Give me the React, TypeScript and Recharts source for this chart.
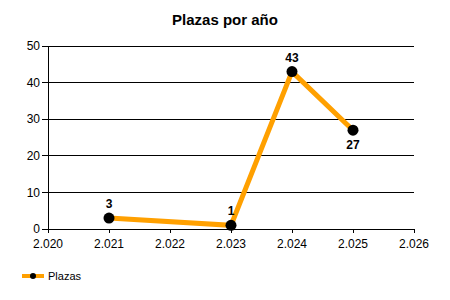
import React from "react";
import { LineChart, Line, XAxis, YAxis, CartesianGrid, Legend, LabelList } from "recharts";

const years = [2021, 2023, 2024, 2025];
const plazas = [3, 1, 43, 27];
const xTicks = [2020, 2021, 2022, 2023, 2024, 2025, 2026];
const yTicks = [0, 10, 20, 30, 40, 50];

const data = years.map((year, i) => ({ year, Plazas: plazas[i] }));

const ORANGE = "#FFA000";
const FONT = "'Liberation Sans', Arial, sans-serif";

const fmtYear = (v: number) => {
  const s = String(v);
  return s.slice(0, s.length - 3) + "." + s.slice(-3);
};

// label under the point when the line comes down into it
const renderLabel = (props: any) => {
  const { x, y, value, index } = props;
  const below = index > 0 && plazas[index - 1] > value && index === plazas.length - 1;
  return (
    <text
      x={x}
      y={below ? y + 19 : y - 10}
      textAnchor="middle"
      fontWeight="bold"
      fontSize={12}
      fontFamily={FONT}
      fill="#000"
    >
      {value}
    </text>
  );
};

const renderLegend = () => (
  <div style={{ display: "flex", alignItems: "center", fontFamily: FONT, fontSize: 11, color: "#000" }}>
    <svg width={24} height={10}>
      <line x1={1} y1={5} x2={23} y2={5} stroke={ORANGE} strokeWidth={4} />
      <circle cx={12} cy={5} r={3} fill="#000" />
    </svg>
    <span style={{ marginLeft: 3 }}>Plazas</span>
  </div>
);

export default function App() {
  return (
    <div style={{ position: "absolute", left: 0, top: 0, width: 450, height: 300, background: "#fff" }}>
      <div
        style={{
          position: "absolute",
          left: 0,
          width: 450,
          top: 11,
          textAlign: "center",
          fontFamily: FONT,
          fontWeight: "bold",
          fontSize: 15,
          color: "#000",
        }}
      >
        Plazas por año
      </div>
      <LineChart width={450} height={300} data={data} margin={{ top: 46, right: 36, bottom: 29, left: 0 }}>
        <CartesianGrid vertical={false} stroke="#000" strokeWidth={1} shapeRendering="crispEdges" />
        <XAxis
          dataKey="year"
          type="number"
          domain={[2020, 2026]}
          ticks={xTicks}
          tickFormatter={fmtYear}
          height={30}
          stroke="#000"
          tickSize={4}
          tick={{ fill: "#000", fontSize: 12, fontFamily: FONT, dy: 4 }}
          interval={0}
          shapeRendering="crispEdges"
        />
        <YAxis
          domain={[0, 50]}
          ticks={yTicks}
          width={48}
          stroke="#000"
          tickSize={6}
          tick={{ fill: "#000", fontSize: 12, fontFamily: FONT }}
          interval={0}
          shapeRendering="crispEdges"
        />
        <Legend
          layout="vertical"
          align="center"
          verticalAlign="bottom"
          content={renderLegend}
          wrapperStyle={{ position: "absolute", left: 21, top: 270, bottom: "auto", width: 100 }}
        />
        <Line
          type="linear"
          dataKey="Plazas"
          stroke={ORANGE}
          strokeWidth={5}
          dot={{ r: 5.5, fill: "#000", stroke: "#000", strokeWidth: 0 }}
          activeDot={false}
          isAnimationActive={false}
        >
          <LabelList dataKey="Plazas" content={renderLabel} />
        </Line>
      </LineChart>
    </div>
  );
}
